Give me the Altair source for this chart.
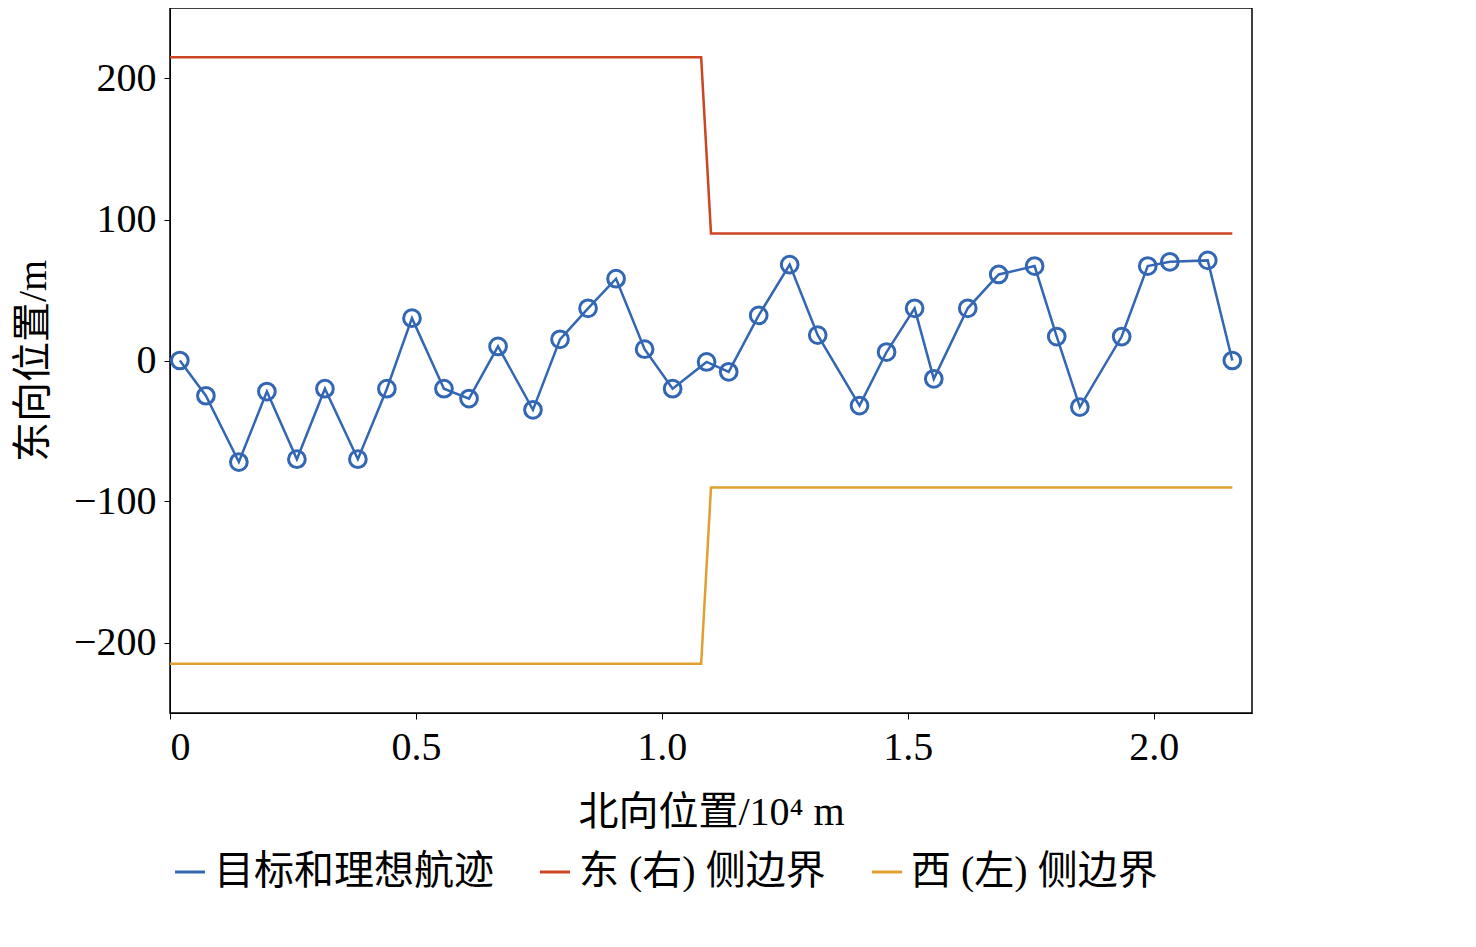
import pandas as pd
import altair as alt

track_x = [0.02, 0.073, 0.14, 0.197, 0.258, 0.315, 0.382, 0.441, 0.492, 0.557, 0.608,
           0.667, 0.738, 0.793, 0.85, 0.907, 0.965, 1.022, 1.091, 1.136, 1.197, 1.26,
           1.317, 1.402, 1.457, 1.514, 1.553, 1.622, 1.685, 1.758, 1.803, 1.85, 1.935,
           1.988, 2.033, 2.11, 2.16]
track_y = [0, -25, -72, -22, -70, -20, -70, -20, 30, -20, -27, 10, -35, 15, 37, 58, 8,
           -20, -1, -8, 32, 68, 18, -32, 6, 37, -13, 37, 61, 67, 17, -33, 17, 67, 70, 71, 0]
east_x = [0, 1.08, 1.10, 2.16]
east_y = [215, 215, 90, 90]
west_x = [0, 1.08, 1.10, 2.16]
west_y = [-215, -215, -90, -90]

names = ['目标和理想航迹', '东 (右) 侧边界', '西 (左) 侧边界']
colors = ['#3366b3', '#cc4422', '#e0a030']

df = pd.concat([
    pd.DataFrame({'x': track_x, 'y': track_y, 's': names[0], 'o': range(len(track_x))}),
    pd.DataFrame({'x': east_x, 'y': east_y, 's': names[1], 'o': range(4)}),
    pd.DataFrame({'x': west_x, 'y': west_y, 's': names[2], 'o': range(4)}),
])

font = 'Liberation Serif, Noto Sans CJK SC'
color = alt.Color('s:N', scale=alt.Scale(domain=names, range=colors),
                  legend=alt.Legend(title=None, orient='bottom', direction='horizontal',
                                    symbolType='stroke', symbolSize=900, symbolStrokeWidth=3,
                                    labelFontSize=40, labelFont=font, columnPadding=40,
                                    labelLimit=400, offset=20))
x = alt.X('x:Q', title='北向位置/10⁴ m', scale=alt.Scale(domain=[0, 2.2]),
          axis=alt.Axis(values=[0, 0.5, 1.0, 1.5, 2.0], titlePadding=25,
                        labelExpr="datum.value == 0 ? '0' : format(datum.value, '.1f')"))
y = alt.Y('y:Q', title='东向位置/m', scale=alt.Scale(domain=[-250, 250]),
          axis=alt.Axis(values=[-200, -100, 0, 100, 200], titlePadding=20,
                        labelExpr="replace(format(datum.value, 'd'), '-', '−')"))

base = alt.Chart(df)
lines = base.mark_line(strokeWidth=2.5).encode(x=x, y=y, color=color, order='o:Q')
pts = base.transform_filter(alt.datum.s == names[0]).mark_point(
    size=280, strokeWidth=3, filled=False, opacity=1).encode(x=x, y=y, color=color)

chart = (lines + pts).properties(
    width=1082, height=705, padding={'left': 5, 'top': 0, 'right': 5, 'bottom': 0}
).configure_view(
    stroke='black', strokeWidth=1.5
).configure_axis(
    grid=False, labelFont=font, titleFont=font, labelFontSize=40, titleFontSize=40,
    titleFontWeight='normal', labelColor='black', titleColor='black',
    domainColor='black', tickColor='black', tickSize=6, labelPadding=8
)

chart.save("out.html", embed_options={"renderer": "svg", "actions": False})
